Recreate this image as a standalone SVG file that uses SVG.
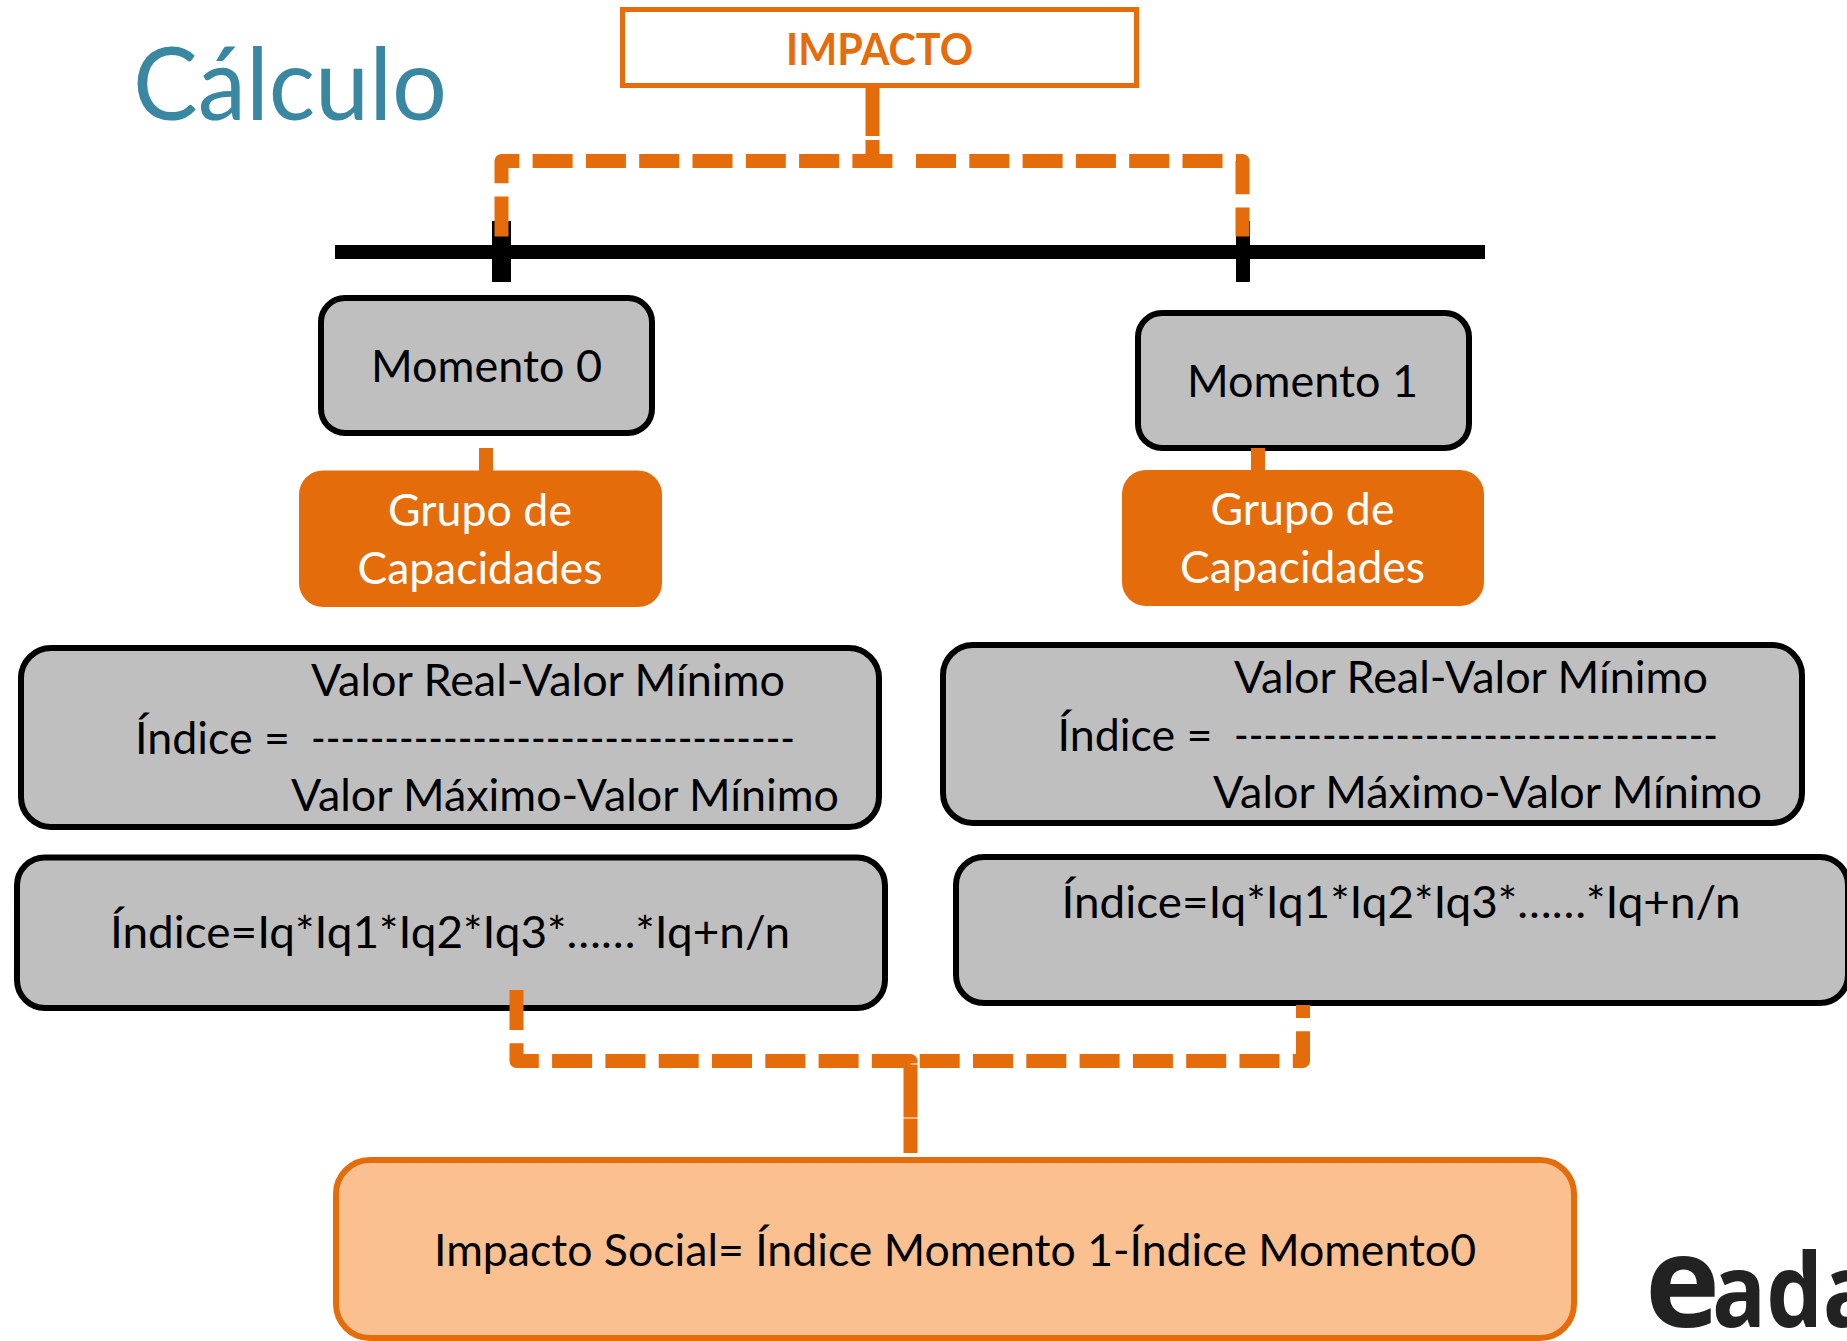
<svg xmlns="http://www.w3.org/2000/svg" width="1847" height="1341" viewBox="0 0 1847 1341">
<style>
text{font-family:"Lato","Liberation Sans",sans-serif;font-size:44px;fill:#000}
.box{fill:#BFBFBF;stroke:#000;stroke-width:6}
.grp{fill:#E46C0A}
.w{fill:#fff}
.dash{fill:none;stroke:#E46C0A;stroke-width:14;stroke-dasharray:40 13.3;stroke-linejoin:round}
.solid{fill:none;stroke:#E46C0A;stroke-width:14;stroke-linejoin:round}
.blk{fill:#000}
</style>
<rect width="1847" height="1341" fill="#fff"/>
<text id="title" x="133" y="120" textLength="314" lengthAdjust="spacingAndGlyphs" style="font-size:100px;fill:#3A87A2">Cálculo</text>
<g id="timeline">
<rect class="blk" x="335" y="245" width="1150" height="14"/>
<rect class="blk" x="492" y="221" width="19" height="61"/>
<rect class="blk" x="1236" y="221" width="14" height="61"/>
</g>
<g id="impacto">
<rect x="622.500" y="9.500" width="514" height="76" fill="#fff" stroke="#E46C0A" stroke-width="5"/>
<text x="786" y="64.500" textLength="187" lengthAdjust="spacingAndGlyphs" style="font-weight:700;fill:#E46C0A">IMPACTO</text>
</g>
<g id="momento0">
<rect class="box" x="321" y="298" width="331" height="135" rx="24"/>
<text x="371" y="382" textLength="231" lengthAdjust="spacingAndGlyphs">Momento 0</text>
</g>
<g id="momento1">
<rect class="box" x="1138" y="313" width="331" height="135" rx="24"/>
<text x="1187" y="397" textLength="231" lengthAdjust="spacingAndGlyphs">Momento 1</text>
</g>
<g id="grupo0">
<rect class="grp" x="299" y="470.500" width="363" height="136.500" rx="24"/>
<text class="w" x="388" y="525.500" textLength="184" lengthAdjust="spacingAndGlyphs">Grupo de</text>
<text class="w" x="357.500" y="583.500" textLength="245" lengthAdjust="spacingAndGlyphs">Capacidades</text>
</g>
<g id="grupo1">
<rect class="grp" x="1122" y="470" width="362" height="136" rx="24"/>
<text class="w" x="1210.500" y="524.500" textLength="184" lengthAdjust="spacingAndGlyphs">Grupo de</text>
<text class="w" x="1180" y="582.500" textLength="245" lengthAdjust="spacingAndGlyphs">Capacidades</text>
</g>
<g id="formula0">
<rect class="box" x="21" y="648" width="858" height="179" rx="30"/>
<text x="311" y="696" textLength="474" lengthAdjust="spacingAndGlyphs">Valor Real-Valor Mínimo</text>
<text x="135" y="753.500" textLength="155" lengthAdjust="spacingAndGlyphs">Índice =</text>
<text x="311" y="753.500" textLength="484" lengthAdjust="spacingAndGlyphs">---------------------------------</text>
<text x="291" y="811" textLength="548" lengthAdjust="spacingAndGlyphs">Valor Máximo-Valor Mínimo</text>
</g>
<g id="formula1">
<rect class="box" x="943" y="645" width="859" height="178" rx="30"/>
<text x="1234" y="693" textLength="474" lengthAdjust="spacingAndGlyphs">Valor Real-Valor Mínimo</text>
<text x="1057.500" y="750.500" textLength="155" lengthAdjust="spacingAndGlyphs">Índice =</text>
<text x="1234" y="750.500" textLength="484" lengthAdjust="spacingAndGlyphs">---------------------------------</text>
<text x="1213" y="807.500" textLength="549" lengthAdjust="spacingAndGlyphs">Valor Máximo-Valor Mínimo</text>
</g>
<g id="indice0">
<rect class="box" x="17" y="857.500" width="868" height="150.500" rx="28"/>
<text x="110" y="948" textLength="680" lengthAdjust="spacingAndGlyphs">Índice=Iq*Iq1*Iq2*Iq3*……*Iq+n/n</text>
</g>
<g id="indice1">
<rect class="box" x="956" y="857" width="892" height="146" rx="28"/>
<text x="1061.500" y="918" textLength="679" lengthAdjust="spacingAndGlyphs">Índice=Iq*Iq1*Iq2*Iq3*……*Iq+n/n</text>
</g>
<g id="impacto-social">
<rect x="336" y="1160" width="1238" height="178" rx="34" fill="#FAC090" stroke="#E46C0A" stroke-width="6"/>
<text x="434" y="1266" textLength="1042" lengthAdjust="spacingAndGlyphs">Impacto Social= Índice Momento 1-Índice Momento0</text>
</g>
<text id="logo" x="1645" y="1327" style="font-family:'Open Sans',sans-serif;font-weight:700;fill:#222"><tspan style="font-size:127px">e</tspan><tspan x="1712" textLength="165" lengthAdjust="spacingAndGlyphs" style="font-size:103px">ada</tspan></text>
<g id="connectors">
<path class="solid" d="M872.500 88V136M872.500 140V168"/>
<path class="dash" d="M501.500 236.500V161H893"/>
<path class="dash" d="M916 161H1242.500V236.500"/>
<path class="solid" d="M486 448V471M1258 448V470.500"/>
<path class="dash" d="M516.500 990V1061H872"/>
<path class="solid" d="M872 1061H910.500V1063.500"/>
<path class="dash" d="M919.700 1061H1303V1005"/>
<path class="solid" d="M910.500 1064.500V1117.500M910.500 1118.500V1153"/>
</g>
</svg>
